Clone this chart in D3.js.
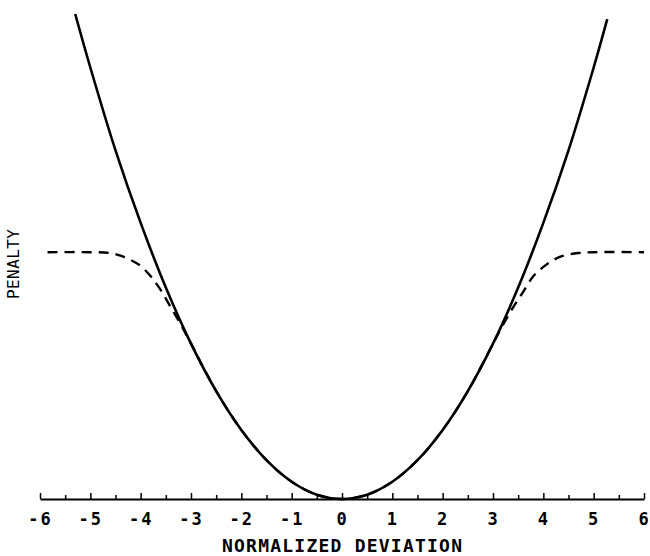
<!DOCTYPE html>
<html>
<head>
<meta charset="utf-8">
<script src="https://cdn.jsdelivr.net/npm/d3@7"></script>
<style>
  body { margin: 0; background: #fff; }
  text { font-family: "DejaVu Sans Mono", monospace; fill: #000; }
</style>
</head>
<body>
<svg width="650" height="556"></svg>
<script>
// data
const tickValues = [-6, -5, -4, -3, -2, -1, 0, 1, 2, 3, 4, 5, 6]
const tickLabels = ['-6', '-5', '-4', '-3', '-2', '-1', '0', '1', '2', '3', '4', '5', '6']
const minorTicks = [-5.5, -4.5, -3.5, -2.5, -1.5, -0.5, 0.5, 1.5, 2.5, 3.5, 4.5, 5.5]

// solid curve (quadratic penalty)
const solidX = [-5.3, -5, -4.5, -4, -3.5, -3, -2.5, -2, -1.5, -1, -0.5, 0, 0.5, 1, 1.5, 2, 2.5, 3, 3.5, 4, 4.5, 5, 5.27]
const solidY = [28.1, 25, 20.2, 16, 12.25, 9, 6.25, 4, 2.25, 1, 0.25, 0, 0.25, 1, 2.25, 4, 6.25, 9, 12.25, 16, 20.2, 25, 27.8]

// dashed curve (saturating penalty)
const dashX = [-5.85, -5, -4.6, -4.4, -4.2, -4, -3.8, -3.6, -3.4, -3.2, -3, -2.5, -2, -1.5, -1, -0.5, 0, 0.5, 1, 1.5, 2, 2.5, 3, 3.2, 3.4, 3.6, 3.8, 4, 4.2, 4.4, 4.7, 5, 6]
const dashY = [14.3, 14.3, 14.25, 14.1, 13.85, 13.5, 12.9, 12.1, 11.1, 10.1, 9, 6.25, 4, 2.25, 1, 0.25, 0, 0.25, 1, 2.25, 4, 6.25, 9, 10.1, 11.1, 12.0, 12.9, 13.45, 13.85, 14.1, 14.25, 14.3, 14.3]

const svg = d3.select('svg')

const x = d3.scaleLinear().domain([-6, 6]).range([40, 644])
const y = d3.scaleLinear().domain([0, 28.1]).range([499, 14])

const line = d3.line()
    .x(d => x(d[0]))
    .y(d => y(d[1]))
    .curve(d3.curveCatmullRom)

const dashed = dashX.map((v, i) => [v, dashY[i]])
const solid = solidX.map((v, i) => [v, solidY[i]])

svg.append('path')
    .attr('d', line(dashed))
    .attr('fill', 'none')
    .attr('stroke', '#000')
    .attr('stroke-width', 2.4)
    .attr('stroke-dasharray', '10,7')

svg.append('path')
    .attr('d', line(solid))
    .attr('fill', 'none')
    .attr('stroke', '#000')
    .attr('stroke-width', 2.6)

// minor ticks
svg.append('g')
    .attr('transform', `translate(0,${y(0)})`)
    .call(d3.axisBottom(x).tickValues(minorTicks).tickSize(-4).tickFormat(''))
    .call(g => g.select('.domain').remove())
    .call(g => g.selectAll('line').attr('stroke-width', 1.5))

// major ticks + labels
const axis = svg.append('g')
    .attr('transform', `translate(0,${y(0)})`)
    .call(d3.axisBottom(x)
        .tickValues(tickValues)
        .tickSize(-6)
        .tickSizeOuter(0)
        .tickPadding(14)
        .tickFormat((d, i) => tickLabels[i]))

axis.select('.domain').attr('stroke-width', 2)
axis.selectAll('line').attr('stroke-width', 1.5)
axis.selectAll('text')
    .style('font-size', '17px')
    .style('font-weight', 'bold')
    .attr('letter-spacing', 2)

svg.append('text')
    .attr('x', x(0))
    .attr('y', 552)
    .attr('text-anchor', 'middle')
    .attr('textLength', 240)
    .style('font-size', '18px')
    .style('font-weight', 'bold')
    .text('NORMALIZED DEVIATION')

svg.append('text')
    .attr('transform', 'translate(19,264) rotate(-90)')
    .attr('text-anchor', 'middle')
    .attr('textLength', 70)
    .style('font-size', '16px')
    .text('PENALTY')
</script>
</body>
</html>
